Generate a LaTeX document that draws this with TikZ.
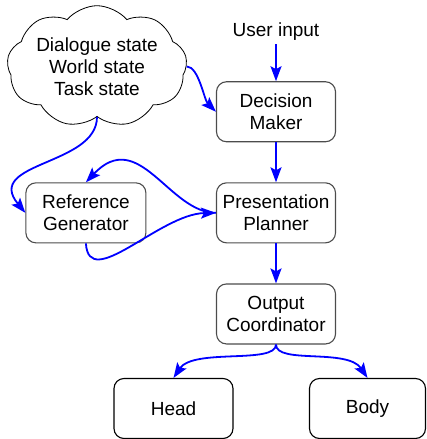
\documentclass[tikz,border=0pt]{standalone}
\usepackage{fontspec}
\setmainfont{Liberation Sans}
\usetikzlibrary{positioning}
\usetikzlibrary{shapes.symbols, arrows.meta}
\tikzstyle{arrow} = [draw=blue, line width=1.8pt, -{Stealth[length=15pt,width=11pt,inset=3pt]}]
\tikzstyle{stage} = [draw=black!70, line width=1.1pt, rounded corners=10pt, minimum width=119pt, minimum height=60pt, align=center]
\tikzstyle{part} = [stage, draw=black]

\begin{document}
\begin{tikzpicture}[x=1pt, y=-1pt, font=\fontsize{19}{22}\selectfont]
	\useasboundingbox (0,0) rectangle (426,439);
	%Nodes
	\node (user) at (276,32) {User input};
	\node [stage] (dm) at (276,111.75) {Decision\\Maker};
	\node [stage, below=40pt of dm] (pp) {Presentation\\Planner};
	\node [stage, below=40pt of pp] (oc) {Output\\Coordinator};
	\node [stage, minimum width=120pt, left=69.5pt of pp] (rg) {Reference\\Generator};
	\node [part] (head) at (173.5,408.5) {Head};
	\node [part, minimum width=116pt] (body) at (367.5,408.5) {Body};
	\node [cloud, draw, line width=0.8pt, inner xsep=1pt, inner ysep=-7pt, cloud puffs=9, cloud puff arc=100, aspect=1.75, align=center] (state) at (97,66.5) {Dialogue state\\World state\\Task state};

	%Lines
	\draw[arrow] (user) -- (dm);
	\draw[arrow] (dm) -- (pp);
	\draw[arrow] (pp) -- (oc);
	\draw[arrow] (state.east) .. controls +(12,0) and +(-12,-12) .. (dm.west);
	\draw[arrow] (state.south) .. controls +(0,49) and +(-42,-51) .. (rg.west);
	\draw[arrow] (pp.west) .. controls +(-47,0) and +(53,-56) .. (rg.north);
	\draw[arrow] (rg.south) .. controls +(3,49) and +(-56,1) .. (pp.west);
	\draw[arrow] (oc.south) .. controls +(0,20) and +(20,-30) .. (head.north);
	\draw[arrow] (oc.south) .. controls +(0,20) and +(-20,-30) .. (body.north);
\end{tikzpicture}
\end{document}
